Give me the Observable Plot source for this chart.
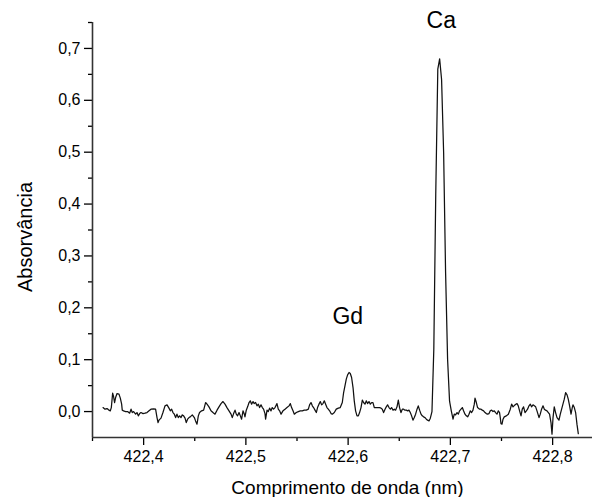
<!DOCTYPE html>
<html><head><meta charset="utf-8">
<script src="https://cdn.jsdelivr.net/npm/d3@7"></script>
<script src="https://cdn.jsdelivr.net/npm/@observablehq/plot@0.6"></script>
<style>body{margin:0;background:#fff;}</style>
</head><body><div id="chart"></div>
<script>
const wavelength = [
422.3603,422.3622,422.3642,422.3657,422.3674,422.3684,422.3697,422.3706,422.3716,422.3726,
422.3740,422.3759,422.3772,422.3785,422.3791,422.3804,422.3824,422.3843,422.3863,422.3877,
422.3889,422.3902,422.3922,422.3935,422.3948,422.3961,422.3974,422.3994,422.4013,422.4033,
422.4053,422.4072,422.4098,422.4117,422.4131,422.4141,422.4150,422.4170,422.4189,422.4209,
422.4229,422.4248,422.4261,422.4274,422.4287,422.4300,422.4313,422.4326,422.4339,422.4352,
422.4366,422.4378,422.4391,422.4405,422.4417,422.4430,422.4444,422.4456,422.4476,422.4496,
422.4508,422.4522,422.4535,422.4547,422.4567,422.4587,422.4606,422.4620,422.4639,422.4659,
422.4678,422.4698,422.4718,422.4737,422.4757,422.4776,
422.4796,422.4815,422.4835,422.4855,422.4867,422.4880,422.4894,422.4906,422.4919,422.4933,
422.4946,422.4958,422.4972,422.4985,422.4991,422.5004,422.5017,422.5031,422.5043,422.5056,
422.5070,422.5082,422.5095,422.5109,422.5122,422.5134,422.5148,422.5161,422.5173,422.5187,
422.5193,422.5207,422.5219,422.5232,422.5246,422.5258,422.5271,422.5285,422.5298,422.5304,
422.5317,422.5330,422.5344,422.5363,422.5383,422.5402,422.5422,422.5435,422.5447,422.5461,
422.5474,422.5493,422.5513,422.5532,422.5552,422.5571,422.5591,422.5611,422.5623,422.5637,
422.5650,422.5662,422.5676,422.5689,422.5701,422.5715,422.5728,422.5741,422.5754,422.5767,
422.5780,422.5793,422.5806,422.5819,422.5833,
422.5845,422.5865,422.5884,422.5904,422.5923,422.5943,422.5956,422.5969,422.5982,422.5995,
422.6009,422.6021,422.6034,422.6048,422.6060,422.6073,422.6087,422.6100,422.6112,422.6126,
422.6139,422.6151,422.6165,422.6178,422.6190,422.6204,422.6217,422.6230,422.6243,422.6256,
422.6269,422.6282,422.6295,422.6308,422.6322,422.6334,422.6347,422.6361,422.6373,422.6386,
422.6400,422.6413,422.6425,422.6439,422.6452,422.6464,422.6478,422.6491,422.6503,422.6517,
422.6530,422.6543,422.6556,422.6569,422.6582,422.6595,422.6608,422.6621,422.6634,422.6647,
422.6660,422.6674,422.6686,422.6699,422.6713,422.6725,422.6738,422.6752,422.6765,422.6777,
422.6791,422.6804,
422.6820,422.6838,422.6857,422.6877,422.6895,422.6914,422.6934,422.6953,422.6973,422.6992,
422.7009,422.7026,
422.7038,422.7051,422.7065,422.7078,422.7090,422.7104,422.7117,422.7129,422.7143,422.7156,
422.7169,422.7182,422.7195,422.7208,422.7221,422.7234,422.7241,422.7254,422.7266,422.7286,
422.7300,422.7312,422.7325,422.7339,422.7351,422.7364,422.7378,422.7390,422.7403,422.7417,
422.7430,422.7442,422.7456,422.7469,422.7481,422.7488,422.7495,422.7505,422.7515,422.7527,
422.7547,422.7567,422.7586,422.7599,422.7613,422.7632,422.7652,422.7664,422.7677,422.7691,
422.7703,422.7716,422.7730,422.7743,422.7755,422.7769,422.7782,422.7794,422.7808,422.7821,
422.7834,422.7847,422.7867,422.7879,422.7892,422.7906,422.7919,422.7931,422.7945,422.7958,
422.7970,422.7984,422.7994,422.8004,422.8016,422.8029,422.8043,422.8062,422.8075,422.8088,
422.8101,422.8114,422.8127,422.8141,422.8153,422.8166,422.8180,422.8192,422.8199,422.8212,
422.8225,422.8238,422.8251
];
const absorbance = [
0.0077,0.0046,0.0058,0.0033,0.0014,0.0077,0.0355,0.029,0.0174,0.027,
0.0347,0.0336,0.0259,0.0143,0.0027,0.0014,0,0,-0.0031,0.0046,
-0.0019,0,-0.005,-0.0019,-0.0083,-0.0039,-0.0019,-0.0039,-0.0031,-0.0019,
0.0014,0.0046,0.0052,0.0046,-0.0116,-0.0212,-0.0166,-0.0127,-0.0019,0.011,
0.0129,0.0066,0.0014,0.0046,-0.0019,-0.005,-0.0116,-0.005,-0.0116,-0.0083,
-0.0116,-0.0064,-0.0083,-0.0127,-0.0212,-0.0147,-0.0116,-0.0102,-0.0064,-0.0116,
-0.018,-0.0243,-0.0083,-0.0019,0.0014,0.0027,0.0174,0.0143,0.0091,0.0014,
-0.0019,-0.005,0.0027,0.0091,0.0154,0.0193,
0.0143,0.0077,0.0014,-0.005,-0.0116,-0.0039,0.0027,-0.005,-0.0083,-0.0019,
-0.0083,-0.0147,0.0014,-0.005,-0.0102,0.0027,0.0091,0.0174,0.0207,0.0143,
0.0193,0.0154,0.0174,0.011,0.0143,0.0077,0.0129,0.0077,0.0046,-0.0039,
-0.0147,0.0027,0,0.0066,0.0014,0.0077,0.0046,0.0077,0.0129,0.0154,
0.0046,0.0014,-0.005,0.0014,0.0046,0.0077,0.011,0.0154,0.0077,0.0014,
-0.005,-0.0019,0,0.0014,0.0014,0.0027,0.0027,0.0046,0.0129,0.0174,
0.011,0.0077,0.0027,-0.0019,0.0077,0.0143,0.0193,0.0129,0.0154,0.0207,
0.0143,0.0077,0.0046,0.0014,-0.0039,
-0.005,-0.0019,0.0046,0.0066,0.0077,0.0174,0.0367,0.0496,0.0625,0.0708,
0.0753,0.0734,0.0656,0.0463,0.0207,0.0014,-0.0083,-0.0083,-0.0019,0.0077,
0.022,0.0174,0.0143,0.0207,0.0154,0.0193,0.0143,0.0174,0.0174,0.0077,
0.0077,0.0077,0.0077,0.0077,0.0066,0.0046,-0.0019,0.0046,0.0091,0.0129,
0.0077,0.0046,0.0077,0.0027,0.0046,0.0027,0.0091,0.022,0.0077,-0.0019,
0.0046,0.0046,0.0027,0.0027,0.0014,0.0027,-0.0019,-0.0083,-0.0166,-0.0116,
-0.005,0.0046,0.011,0.0027,-0.005,-0.0083,-0.0102,-0.0116,-0.0147,-0.0166,
-0.018,-0.0127,
0.0,0.12,0.42,0.66,0.68,0.64,0.50,0.27,0.10,0.02,
0.0014,-0.0147,
-0.005,-0.0064,-0.0019,-0.005,0.0014,0.0046,0.0077,0.0014,-0.005,-0.0083,
-0.0102,-0.005,0.0014,-0.0019,0.0027,0.0143,0.0259,0.0174,0.0077,0.0046,
0.0046,0.0027,0.0014,-0.0019,-0.0039,-0.005,-0.0039,0.0014,0.0027,0,
0.0014,-0.0019,-0.005,0.0014,-0.0019,-0.0116,-0.0232,-0.0243,-0.0147,-0.0102,
-0.0083,-0.005,0.0046,0.0143,0.0091,0.0129,0.0154,0.011,0.0014,-0.0083,
0.0046,0.0091,-0.0019,0.0014,0.0046,0.011,0.0143,0.0091,0.0129,0.011,
0.0091,0.0014,-0.0116,-0.005,0.0046,0.011,0.0046,0.0027,0.0014,-0.0019,
-0.005,-0.0212,-0.0436,-0.0116,0.0091,-0.0019,-0.0116,-0.0166,-0.005,0.0046,
0.0143,0.0239,0.0367,0.0322,0.0239,0.011,-0.005,0.0077,0.0129,0.0077,
-0.0019,-0.0243,-0.0425
];
const xTicks = [422.4, 422.5, 422.6, 422.7, 422.8];
const xMinorTicks = [422.35, 422.45, 422.55, 422.65, 422.75];
const yTicks = [0, 0.1, 0.2, 0.3, 0.4, 0.5, 0.6, 0.7];
const yMinorTicks = [0.05, 0.15, 0.25, 0.35, 0.45, 0.55, 0.65, 0.75];
const peakNames = ["Gd", "Ca"];
const peakNameX = [422.5997, 422.6911];
const peakNameY = [0.1836, 0.753];
const xDomain = [422.35, 422.839];
const yDomain = [-0.05, 0.75];
const xTitle = "Comprimento de onda (nm)";
const yTitle = "Absorvância";

const data = wavelength.map((w, i) => ({w, a: absorbance[i]}));
const peaks = peakNames.map((n, i) => ({n, x: peakNameX[i], y: peakNameY[i]}));
const fmt = d => d.toFixed(1).replace(".", ",");
const font = "'Liberation Sans', Arial, Helvetica, sans-serif";

const chart = Plot.plot({
  width: 594,
  height: 497,
  marginLeft: 92,
  marginRight: 2,
  marginTop: 22,
  marginBottom: 60,
  style: {fontFamily: font, fontSize: "16px", color: "#000", background: "#fff", overflow: "visible"},
  x: {domain: xDomain},
  y: {domain: yDomain},
  marks: [
    Plot.axisX(xTicks, {tickSize: 8, tickPadding: 5, tickFormat: fmt, label: null, fontSize: 16, strokeWidth: 1.3}),
    Plot.axisX(xMinorTicks, {tickSize: 4, tickFormat: () => "", label: null, strokeWidth: 1.3}),
    Plot.axisY(yTicks, {tickSize: 8, tickPadding: 4, tickFormat: fmt, label: null, fontSize: 16, strokeWidth: 1.3}),
    Plot.axisY(yMinorTicks, {tickSize: 4, tickFormat: () => "", label: null, strokeWidth: 1.3}),
    Plot.ruleX([xDomain[0]], {stroke: "#333", strokeWidth: 1.6}),
    Plot.ruleY([yDomain[0]], {stroke: "#333", strokeWidth: 1.6}),
    Plot.line(data, {x: "w", y: "a", stroke: "#111", strokeWidth: 1.25}),
    Plot.text(peaks, {x: "x", y: "y", text: "n", fontSize: 23, fill: "#000"}),
    Plot.text([xTitle], {frameAnchor: "bottom", textAnchor: "middle", lineAnchor: "middle", dx: 5, dy: 50, fontSize: 19, fill: "#000"}),
    Plot.text([yTitle], {frameAnchor: "left", textAnchor: "middle", lineAnchor: "middle", rotate: -90, dx: -67, dy: 7, fontSize: 20, fill: "#000"})
  ]
});
document.getElementById("chart").appendChild(chart);
</script>
</body></html>
